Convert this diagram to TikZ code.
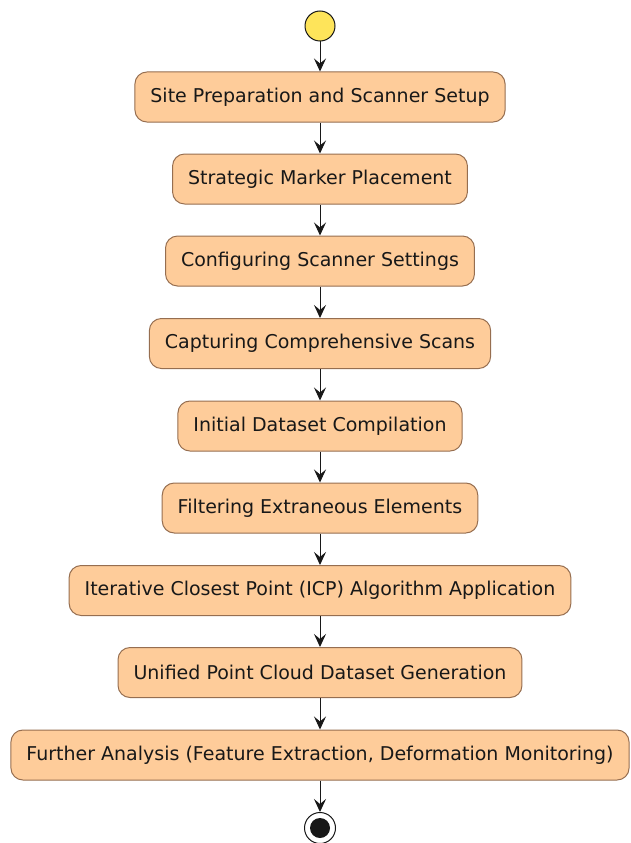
\documentclass[tikz,border=0pt]{standalone}
\usepackage{fontspec}
\setmainfont{DejaVu Sans}
\usetikzlibrary{arrows.meta}
\definecolor{boxfill}{RGB}{254,204,154}
\definecolor{boxline}{RGB}{150,110,80}
\definecolor{startfill}{RGB}{254,228,90}
\definecolor{ink}{RGB}{24,24,24}
\tikzset{
	stepbox/.style={draw=boxline, fill=boxfill, rounded corners=12pt, line width=1pt, minimum height=50pt, inner xsep=15.5pt, font=\fontsize{19}{22}\selectfont, text=ink},
	flow/.style={draw=ink, line width=1pt, -{Stealth[length=13pt,width=12pt,inset=5pt]}}
}
\begin{document}
\begin{tikzpicture}[x=1pt,y=1pt,yscale=-1]
			\useasboundingbox (0,0) rectangle (630,843);
			
			%Shape: Circle [start]
			\node (start) [circle, draw=ink, fill=startfill, line width=1pt, minimum size=30pt, inner sep=0pt] at (320,26) {};
			
			% Text Node
			\node (prep) [stepbox] at (320,97) {Site Preparation and Scanner Setup};
			% Text Node
			\node (marker) [stepbox] at (320,179) {Strategic Marker Placement};
			% Text Node
			\node (config) [stepbox] at (320,261) {Configuring Scanner Settings};
			% Text Node
			\node (capture) [stepbox] at (320,343.5) {Capturing Comprehensive Scans};
			% Text Node
			\node (compile) [stepbox] at (320,426) {Initial Dataset Compilation};
			% Text Node
			\node (filter) [stepbox] at (320,508) {Filtering Extraneous Elements};
			% Text Node
			\node (icp) [stepbox] at (320,590.5) {Iterative Closest Point (ICP) Algorithm Application};
			% Text Node
			\node (unify) [stepbox] at (320,672.5) {Unified Point Cloud Dataset Generation};
			% Text Node
			\node (analysis) [stepbox] at (320,755) {Further Analysis (Feature Extraction, Deformation Monitoring)};
			
			%Shape: Circle [stop]
			\node (stop) [circle, draw=ink, fill=white, line width=1pt, minimum size=31pt, inner sep=0pt] at (320,828) {};
			\fill[ink] (stop.center) circle (10);
			
			%Straight Lines
			\draw [flow] (start) -- (prep);
			\draw [flow] (prep) -- (marker);
			\draw [flow] (marker) -- (config);
			\draw [flow] (config) -- (capture);
			\draw [flow] (capture) -- (compile);
			\draw [flow] (compile) -- (filter);
			\draw [flow] (filter) -- (icp);
			\draw [flow] (icp) -- (unify);
			\draw [flow] (unify) -- (analysis);
			\draw [flow] (analysis) -- (stop);
			
		\end{tikzpicture}
\end{document}
